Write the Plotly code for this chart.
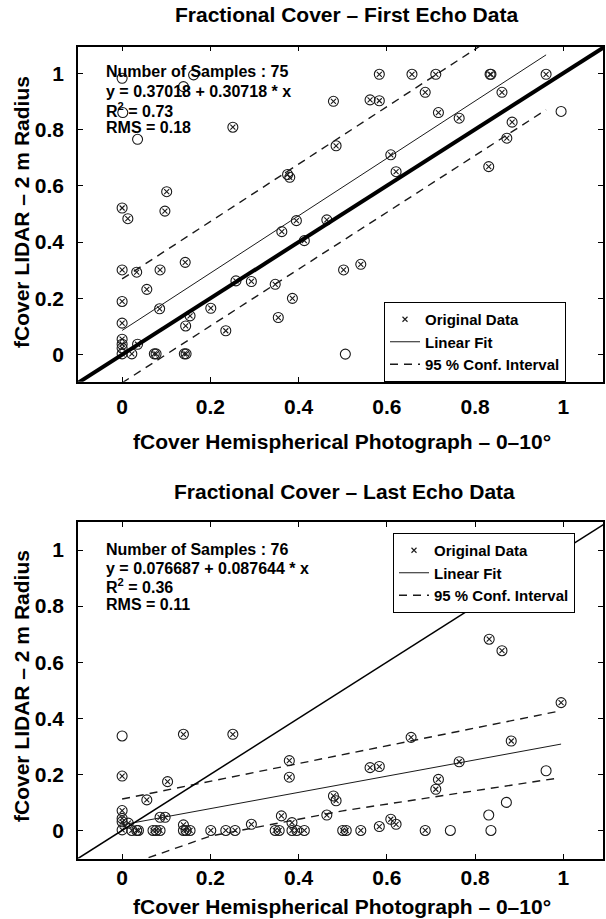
import plotly.graph_objects as go

# ---------------- data ----------------
x_tick_vals = [0, 0.2, 0.4, 0.6, 0.8, 1]
x_tick_text = ["0", "0.2", "0.4", "0.6", "0.8", "1"]
y_tick_vals = [0, 0.2, 0.4, 0.6, 0.8, 1]
y_tick_text = ["0", "0.2", "0.4", "0.6", "0.8", "1"]

# First echo (top) - points with crosses (Original Data)
top_cross_x = [0.479, 0.251, 0.485, 0.375, 0.380, 0.101, 0.0, 0.097, 0.013, 0.583,
               0.657, 0.711, 0.834, 0.836, 0.961, 0.687, 0.861, 0.562, 0.583, 0.717,
               0.764, 0.884, 0.872, 0.609, 0.621, 0.831, 0.362, 0.395, 0.464, 0.413,
               0.0, 0.033, 0.086, 0.143, 0.056, 0.0, 0.085, 0.258, 0.293, 0.347,
               0.386, 0.154, 0.201, 0.144, 0.354, 0.235, 0.0, 0.0, 0.0, 0.0,
               0.0, 0.022, 0.035, 0.073, 0.077, 0.141, 0.145, 0.502, 0.541]
top_cross_y = [0.900, 0.808, 0.742, 0.640, 0.630, 0.579, 0.521, 0.510, 0.483, 0.996,
               0.996, 0.996, 0.996, 0.996, 0.996, 0.932, 0.932, 0.905, 0.902, 0.860,
               0.840, 0.826, 0.769, 0.710, 0.650, 0.668, 0.437, 0.476, 0.479, 0.405,
               0.301, 0.293, 0.301, 0.328, 0.232, 0.189, 0.163, 0.262, 0.260, 0.250,
               0.200, 0.138, 0.165, 0.102, 0.132, 0.085, 0.112, 0.055, 0.037, 0.023,
               0.003, 0.003, 0.037, 0.003, 0.003, 0.003, 0.003, 0.301, 0.321]
# points drawn only as circles
top_ring_x = [0.0, 0.162, 0.139, 0.0015, 0.035, 0.995, 0.506]
top_ring_y = [0.982, 0.994, 0.952, 0.860, 0.765, 0.864, 0.002]

top_fit_x = [0.0, 0.961]
top_fit_y = [0.086, 1.065]
top_upper_x = [0.0, 0.961]
top_upper_y = [0.269, 1.249]
top_lower_x = [0.0, 0.961]
top_lower_y = [-0.100, 0.870]

# Last echo (bottom)
bot_cross_x = [0.139, 0.251, 0.0, 0.103, 0.379, 0.379, 0.056, 0.0, 0.086, 0.0975,
               0.0, 0.0, 0.014, 0.0, 0.022, 0.033, 0.037, 0.070, 0.077, 0.086,
               0.139, 0.139, 0.145, 0.154, 0.201, 0.235, 0.256, 0.293, 0.347, 0.356,
               0.361, 0.385, 0.385, 0.396, 0.413, 0.464, 0.479, 0.485, 0.995, 0.882,
               0.655, 0.562, 0.583, 0.764, 0.717, 0.711, 0.687, 0.609, 0.621, 0.583,
               0.541, 0.500, 0.508, 0.832, 0.861]
bot_cross_y = [0.343, 0.343, 0.194, 0.174, 0.249, 0.190, 0.109, 0.071, 0.047, 0.047,
               0.043, 0.031, 0.026, 0.002, 0.0, 0.0, 0.0, 0.0, 0.0, 0.0,
               0.020, 0.0, 0.0, 0.0, 0.0, 0.0, 0.0, 0.022, 0.0, 0.0,
               0.052, 0.028, 0.0, 0.0, 0.0, 0.055, 0.123, 0.106, 0.456, 0.319,
               0.332, 0.224, 0.228, 0.245, 0.182, 0.147, 0.0, 0.040, 0.022, 0.014,
               0.0, 0.0, 0.0, 0.682, 0.641]
bot_ring_x = [0.0, 0.961, 0.871, 0.831, 0.836, 0.744]
bot_ring_y = [0.337, 0.213, 0.100, 0.055, 0.0, 0.0]

bot_fit_x = [0.0, 0.995]
bot_fit_y = [0.020, 0.308]
bot_upper_x = [0.0, 0.995]
bot_upper_y = [0.112, 0.427]
bot_lower_x = [0.0, 0.2, 0.5, 0.985]
bot_lower_y = [-0.13, -0.02, 0.07, 0.186]

one_to_one = [-0.2, 1.2]

texts_top = ["Number of Samples : 75", "y = 0.37018 + 0.30718 * x",
             "R<sup>2</sup> = 0.73", "RMS = 0.18"]
texts_bot = ["Number of Samples : 76", "y = 0.076687 + 0.087644 * x",
             "R<sup>2</sup> = 0.36", "RMS = 0.11"]

# ---------------- layout helpers ----------------
W, H = 606, 919
L, R = 78, 3
PW = W - L - R


def px(xp):
    return (xp - L) / PW


def py(yp):
    return 1 - yp / H


FONT = "Liberation Sans, Arial, Helvetica, sans-serif"
INK = "#1a1a1a"

fig = go.Figure()


def add_panel(xa, ya, legend, cx, cy, rx, ry, fx, fy, ux, uy, lx, ly, thick):
    fig.add_trace(go.Scatter(
        x=cx + rx, y=cy + ry, mode="markers", xaxis=xa, yaxis=ya,
        marker=dict(symbol="circle-open", size=10, color=INK, line=dict(width=1.1)),
        showlegend=False, hoverinfo="skip", legend=legend))
    fig.add_trace(go.Scatter(
        x=cx, y=cy, mode="markers", xaxis=xa, yaxis=ya, name="Original Data",
        marker=dict(symbol="x-thin-open", size=5, color=INK, line=dict(width=1.1, color=INK)),
        legend=legend))
    fig.add_trace(go.Scatter(
        x=fx, y=fy, mode="lines", xaxis=xa, yaxis=ya, name="Linear Fit",
        line=dict(color=INK, width=1), legend=legend))
    fig.add_trace(go.Scatter(
        x=ux, y=uy, mode="lines", xaxis=xa, yaxis=ya, name="95 % Conf. Interval",
        line=dict(color=INK, width=1.4, dash="8px,6px"), legend=legend))
    fig.add_trace(go.Scatter(
        x=lx, y=ly, mode="lines", xaxis=xa, yaxis=ya, showlegend=False,
        line=dict(color=INK, width=1.4, dash="8px,6px"), legend=legend))
    fig.add_trace(go.Scatter(
        x=one_to_one, y=one_to_one, mode="lines", xaxis=xa, yaxis=ya, showlegend=False,
        line=dict(color="black", width=thick), legend=legend))


add_panel("x", "y", "legend", top_cross_x, top_cross_y, top_ring_x, top_ring_y,
          top_fit_x, top_fit_y, top_upper_x, top_upper_y, top_lower_x, top_lower_y, 4)
add_panel("x2", "y2", "legend2", bot_cross_x, bot_cross_y, bot_ring_x, bot_ring_y,
          bot_fit_x, bot_fit_y, bot_upper_x, bot_upper_y, bot_lower_x, bot_lower_y, 1.5)

axis_common = dict(showgrid=False, zeroline=False, showline=True, mirror="allticks",
                   linecolor="black", linewidth=1.5, ticks="inside", ticklen=5,
                   tickwidth=1, tickcolor="black",
                   tickfont=dict(size=21, color="black", family=FONT, weight="bold"))

legend_common = dict(xanchor="left", yanchor="middle", bordercolor="black", borderwidth=1,
                     bgcolor="white", font=dict(size=15, family=FONT, weight="bold"),
                     tracegroupgap=0, itemwidth=30)

fig.update_layout(
    width=W, height=H,
    margin=dict(l=L, r=R, t=0, b=0),
    paper_bgcolor="white", plot_bgcolor="white",
    font=dict(family=FONT, color="black", weight="bold"),
    xaxis=dict(axis_common, domain=[0, 1], anchor="y", range=[-0.1, 1.09],
               tickvals=x_tick_vals, ticktext=x_tick_text, ticklabelstandoff=5),
    yaxis=dict(axis_common, domain=[py(381.7), py(46.7)], anchor="x", range=[-0.096, 1.094],
               tickvals=y_tick_vals, ticktext=y_tick_text, ticklabelstandoff=8),
    xaxis2=dict(axis_common, domain=[0, 1], anchor="y2", range=[-0.1, 1.09],
                tickvals=x_tick_vals, ticktext=x_tick_text, ticklabelstandoff=0),
    yaxis2=dict(axis_common, domain=[py(858.5), py(522)], anchor="x2", range=[-0.1, 1.1],
                tickvals=y_tick_vals, ticktext=y_tick_text, ticklabelstandoff=8),
    legend=dict(legend_common, x=px(384), y=py(342)),
    legend2=dict(legend_common, x=px(393), y=py(573)),
)

ann = []
# titles
ann.append(dict(text="Fractional Cover \u2013 First Echo Data", x=px(346), y=py(15),
                font=dict(size=21)))
ann.append(dict(text="Fractional Cover \u2013 Last Echo Data", x=px(344), y=py(492),
                font=dict(size=21)))
# x axis titles
ann.append(dict(text="fCover Hemispherical Photograph \u2013 0\u201310\u00b0", x=px(342), y=py(441),
                font=dict(size=21)))
ann.append(dict(text="fCover Hemispherical Photograph \u2013 0\u201310\u00b0", x=px(342), y=py(906),
                font=dict(size=21)))
# y axis titles
ann.append(dict(text="fCover LIDAR \u2013 2 m Radius", x=px(21), y=py(212), textangle=-90,
                font=dict(size=21)))
ann.append(dict(text="fCover LIDAR \u2013 2 m Radius", x=px(21), y=py(686), textangle=-90,
                font=dict(size=21)))
# stats text
for t, yy in zip(texts_top, [72, 91, 110, 127]):
    ann.append(dict(text=t, x=px(104), y=py(yy), xanchor="left", font=dict(size=16)))
for t, yy in zip(texts_bot, [549, 568, 586, 604]):
    ann.append(dict(text=t, x=px(104), y=py(yy), xanchor="left", font=dict(size=16)))

for a in ann:
    a.setdefault("xanchor", "center")
    a.update(xref="paper", yref="paper", showarrow=False, yanchor="middle")
    a["font"].update(family=FONT, color="black", weight="bold")
    fig.add_annotation(**a)

fig.write_html("out.html")
